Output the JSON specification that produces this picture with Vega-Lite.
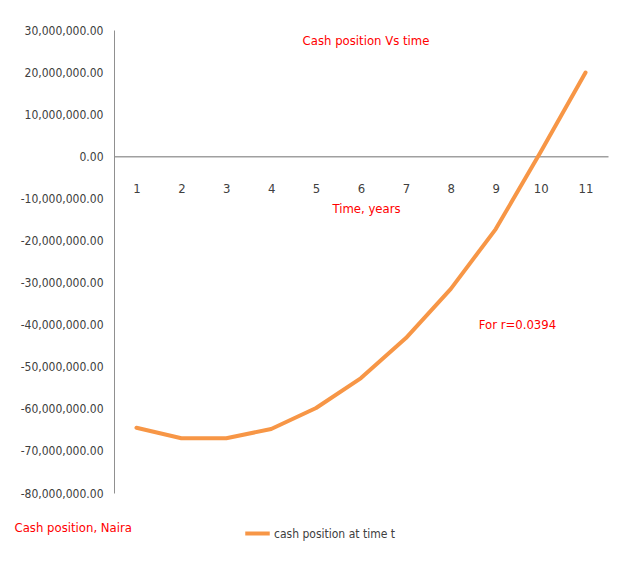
{
  "$schema": "https://vega.github.io/schema/vega-lite/v6.json",
  "autosize": {"type": "none"},
  "padding": {"left": 114, "top": 30, "right": 9, "bottom": 68},
  "width": 494,
  "height": 463,
  "background": "white",
  "config": {
    "view": {"stroke": null},
    "font": "'DejaVu Sans Condensed', 'Liberation Sans', sans-serif"
  },
  "title": {
    "text": "Cash position Vs time",
    "color": "#ff0000",
    "fontSize": 13,
    "fontWeight": "normal",
    "font": "'DejaVu Sans Condensed', 'Liberation Sans', sans-serif",
    "anchor": "middle",
    "offset": -24,
    "dx": 5
  },
  "layer": [
    {
      "data": {
        "values": [
          {"t": "1", "cash": -64500000, "series": "cash position at time t"},
          {"t": "2", "cash": -67000000, "series": "cash position at time t"},
          {"t": "3", "cash": -67000000, "series": "cash position at time t"},
          {"t": "4", "cash": -64800000, "series": "cash position at time t"},
          {"t": "5", "cash": -59800000, "series": "cash position at time t"},
          {"t": "6", "cash": -52700000, "series": "cash position at time t"},
          {"t": "7", "cash": -43200000, "series": "cash position at time t"},
          {"t": "8", "cash": -31500000, "series": "cash position at time t"},
          {"t": "9", "cash": -17300000, "series": "cash position at time t"},
          {"t": "10", "cash": 1000000, "series": "cash position at time t"},
          {"t": "11", "cash": 19900000, "series": "cash position at time t"}
        ]
      },
      "mark": {"type": "line", "strokeWidth": 4, "strokeJoin": "round", "strokeCap": "round"},
      "encoding": {
        "x": {
          "field": "t",
          "type": "ordinal",
          "sort": null,
          "scale": {"type": "point", "padding": 0.5},
          "axis": {
            "orient": "bottom",
            "offset": -336.7,
            "labelAngle": 0,
            "ticks": false,
            "domainColor": "#a0a0a0",
            "domainWidth": 1.5,
            "labelPadding": 26,
            "labelFontSize": 13,
            "labelColor": "#404040",
            "labelFont": "'DejaVu Sans Condensed', 'Liberation Sans', sans-serif",
            "title": "Time, years",
            "titleColor": "#ff0000",
            "titleFontSize": 13,
            "titleFontWeight": "normal",
            "titleFont": "'DejaVu Sans Condensed', 'Liberation Sans', sans-serif",
            "titlePadding": 7,
            "titleX": 252,
            "titleAnchor": null
          }
        },
        "y": {
          "field": "cash",
          "type": "quantitative",
          "scale": {"domain": [-80000000, 30000000], "nice": false, "zero": false},
          "axis": {
            "values": [-80000000, -70000000, -60000000, -50000000, -40000000, -30000000, -20000000, -10000000, 0, 10000000, 20000000, 30000000],
            "labelExpr": "replace(format(datum.value, ',.2f'), '\u2212', '-')",
            "grid": false,
            "ticks": false,
            "domainColor": "#909090",
            "labelPadding": 11,
            "labelFontSize": 12,
            "labelColor": "#404040",
            "labelFont": "'DejaVu Sans Condensed', 'Liberation Sans', sans-serif",
            "title": "Cash position, Naira",
            "titleAngle": 0,
            "titleColor": "#ff0000",
            "titleFontSize": 13,
            "titleFontWeight": "normal",
            "titleFont": "'DejaVu Sans Condensed', 'Liberation Sans', sans-serif",
            "titleX": -100,
            "titleY": 497,
            "titleAlign": "left",
            "titleBaseline": "middle"
          }
        },
        "color": {
          "field": "series",
          "type": "nominal",
          "scale": {"range": ["#f79646"]},
          "legend": {
            "title": null,
            "orient": "none",
            "legendX": 129,
            "legendY": 489,
            "symbolType": "stroke",
            "symbolStrokeWidth": 4,
            "symbolSize": 600,
            "labelFontSize": 12,
            "labelColor": "#404040",
            "labelFont": "'DejaVu Sans Condensed', 'Liberation Sans', sans-serif",
            "labelOffset": 2
          }
        }
      }
    },
    {
      "data": {"values": [{"note": "For r=0.0394"}]},
      "mark": {"type": "text", "color": "#ff0000", "fontSize": 13, "font": "'DejaVu Sans Condensed', 'Liberation Sans', sans-serif", "align": "left", "dx": -17},
      "encoding": {
        "x": {"datum": "9"},
        "y": {"datum": -40000000},
        "text": {"field": "note"}
      }
    }
  ]
}
